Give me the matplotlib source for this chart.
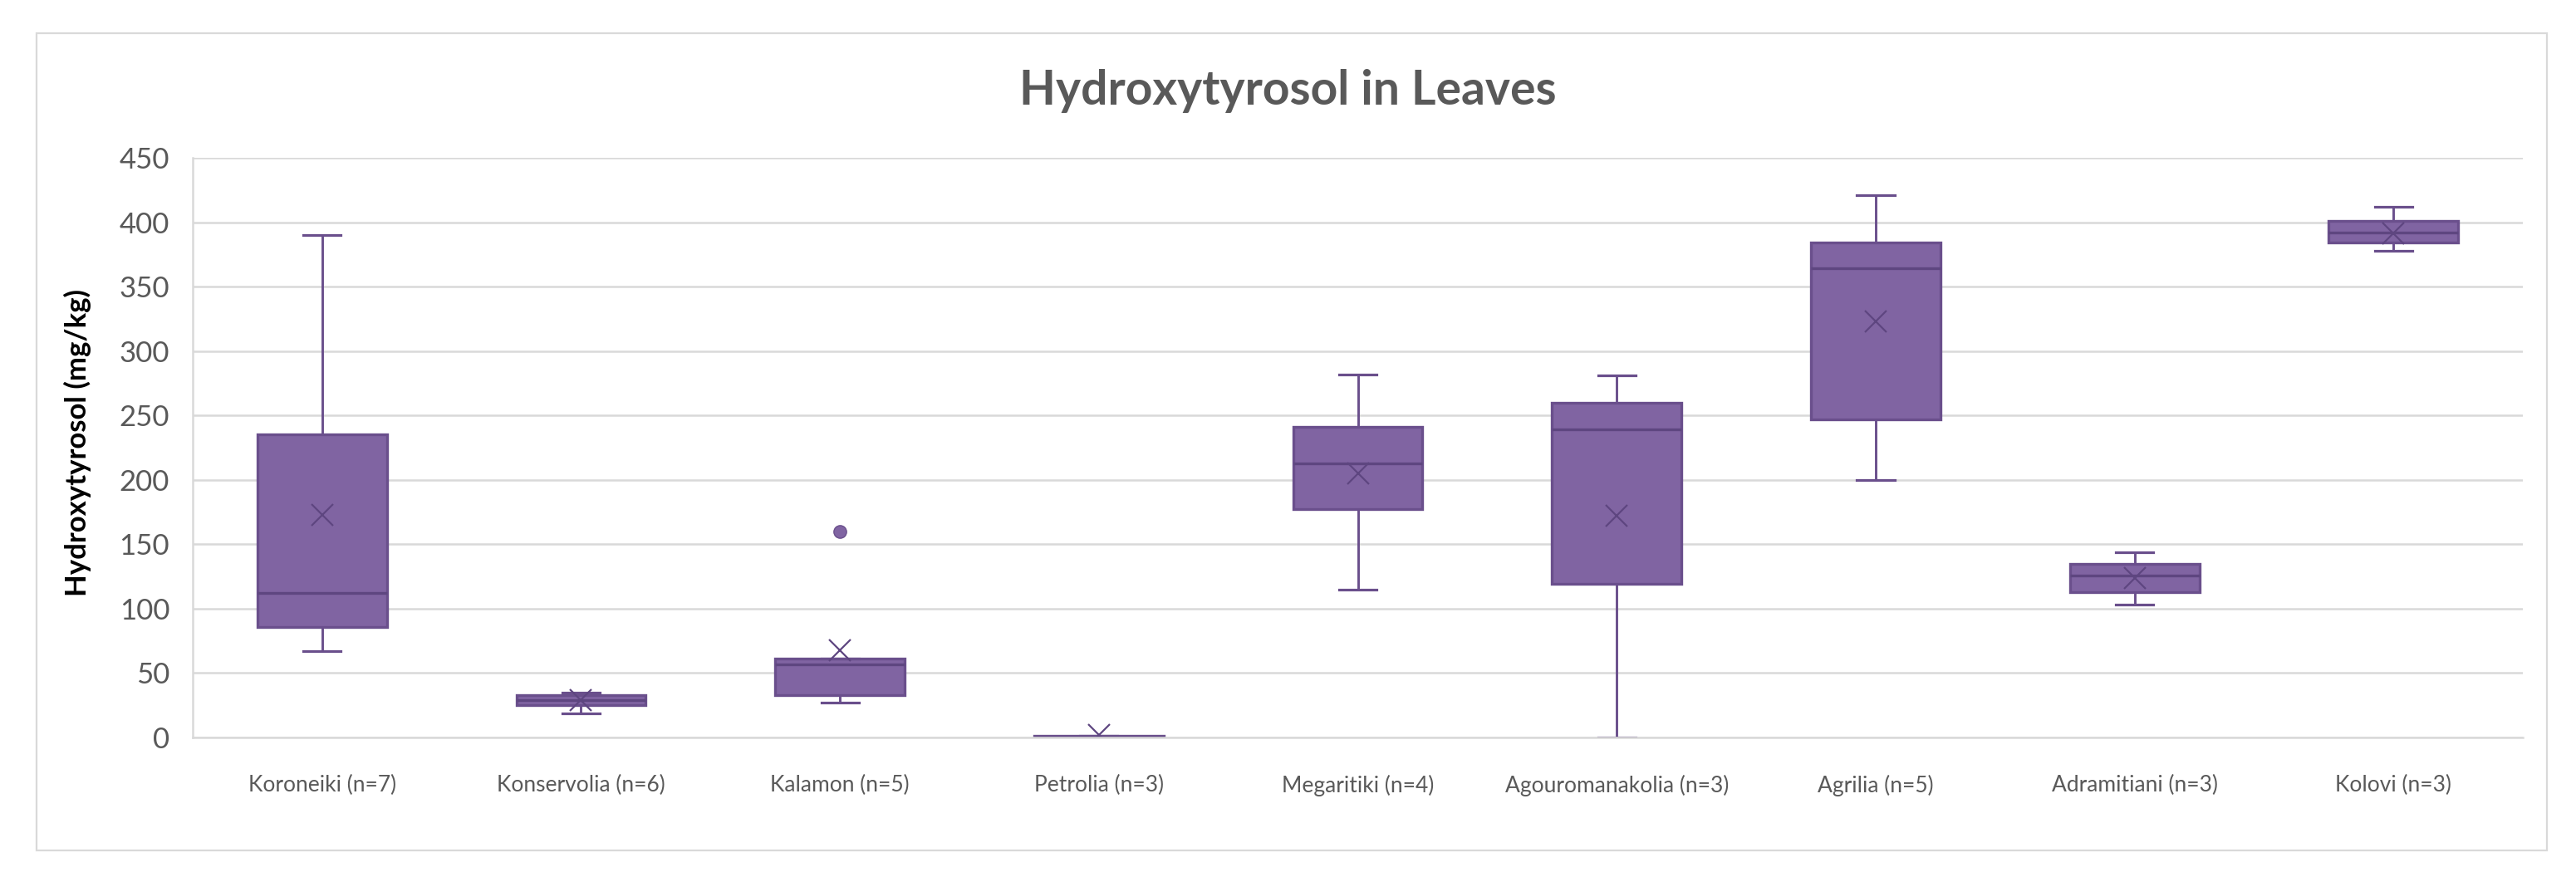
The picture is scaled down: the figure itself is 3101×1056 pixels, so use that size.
"""
Hydroxytyrosol in leaves, box plots per cultivar (Excel-style look).
"""
import matplotlib
matplotlib.use('Agg')
import matplotlib.pyplot as plt
from matplotlib.patches import Rectangle

plt.rcParams['font.family'] = ['Lato', 'DejaVu Sans']

# values (mg/kg)
cultivars = ['Koroneiki (n=7)', 'Konservolia (n=6)', 'Kalamon (n=5)',
             'Petrolia (n=3)', 'Megaritiki (n=4)', 'Agouromanakolia (n=3)',
             'Agrilia (n=5)', 'Adramitiani (n=3)', 'Kolovi (n=3)']
whis_lo = [67, 19, 27, 0, 115, 0, 200, 103, 378]
q1 = [86, 25, 33, 0, 177, 119, 247, 113, 384]
median = [112, 29, 57, 0, 213, 239, 364, 126, 392]
q3 = [235, 33, 61, 1, 241, 260, 384, 135, 401]
whis_hi = [390, 35, 61, 1, 282, 281, 421, 144, 412]
mean = [173, 29, 68, 2, 205, 172, 323, 124, 391]
outliers = [[], [], [160], [], [], [], [], [], []]

yticks = [0, 50, 100, 150, 200, 250, 300, 350, 400, 450]

FILL = '#8064A2'
EDGE = '#6A4F8C'
DARK = '#5E4680'
GRID = '#D9D9D9'
TXT = '#595959'


def make_stats():
    stats = []
    for i, name in enumerate(cultivars):
        stats.append({'label': name, 'whislo': whis_lo[i], 'q1': q1[i],
                      'med': median[i], 'q3': q3[i], 'whishi': whis_hi[i],
                      'mean': mean[i], 'fliers': outliers[i]})
    return stats


def main():
    fig = plt.figure(figsize=(31.01, 10.56), dpi=100)
    fig.patches.append(Rectangle((0.0142, 0.0303), 0.9745, 0.9317,
                                 transform=fig.transFigure, fill=False,
                                 edgecolor=GRID, linewidth=1.6))
    ax = fig.add_axes([0.0748, 0.1591, 0.9046, 0.6610])

    ax.bxp(make_stats(), positions=range(len(cultivars)), widths=0.5,
           patch_artist=True, showmeans=True, showfliers=True,
           boxprops=dict(facecolor=FILL, edgecolor=EDGE, linewidth=2.4),
           medianprops=dict(color=DARK, linewidth=2.4),
           whiskerprops=dict(color=EDGE, linewidth=2.1),
           capprops=dict(color=EDGE, linewidth=2.3),
           capwidths=0.145,
           meanprops=dict(marker='x', markersize=19, markeredgewidth=1.6,
                          markeredgecolor=DARK),
           flierprops=dict(marker='o', markersize=11, markerfacecolor=FILL,
                           markeredgecolor=EDGE))

    ax.set_xlim(-0.5, len(cultivars) - 0.5)
    ax.set_ylim(0, 450)
    ax.set_yticks(yticks)
    ax.yaxis.grid(True, color=GRID, linewidth=1.8)
    ax.set_axisbelow(True)
    for side in ['top', 'right']:
        ax.spines[side].set_visible(False)
    ax.spines['left'].set_color(GRID)
    ax.spines['left'].set_linewidth(1.8)
    ax.spines['bottom'].set_color(GRID)
    ax.spines['bottom'].set_linewidth(1.8)
    ax.spines['bottom'].set_zorder(5)

    ax.tick_params(axis='x', length=0, pad=32, labelsize=19, labelcolor=TXT)
    ax.tick_params(axis='y', length=0, pad=20, labelsize=25, labelcolor=TXT)

    fig.text(0.5, 0.896, 'Hydroxytyrosol in Leaves', ha='center',
             va='center', fontsize=41, fontweight='bold', color=TXT)
    fig.text(0.030, 0.495, 'Hydroxytyrosol (mg/kg)', rotation=90,
             ha='center', va='center', fontsize=25, fontweight='bold',
             color='black')

    fig.savefig('out.png', dpi=100, facecolor='white')


if __name__ == "__main__":
    main()
